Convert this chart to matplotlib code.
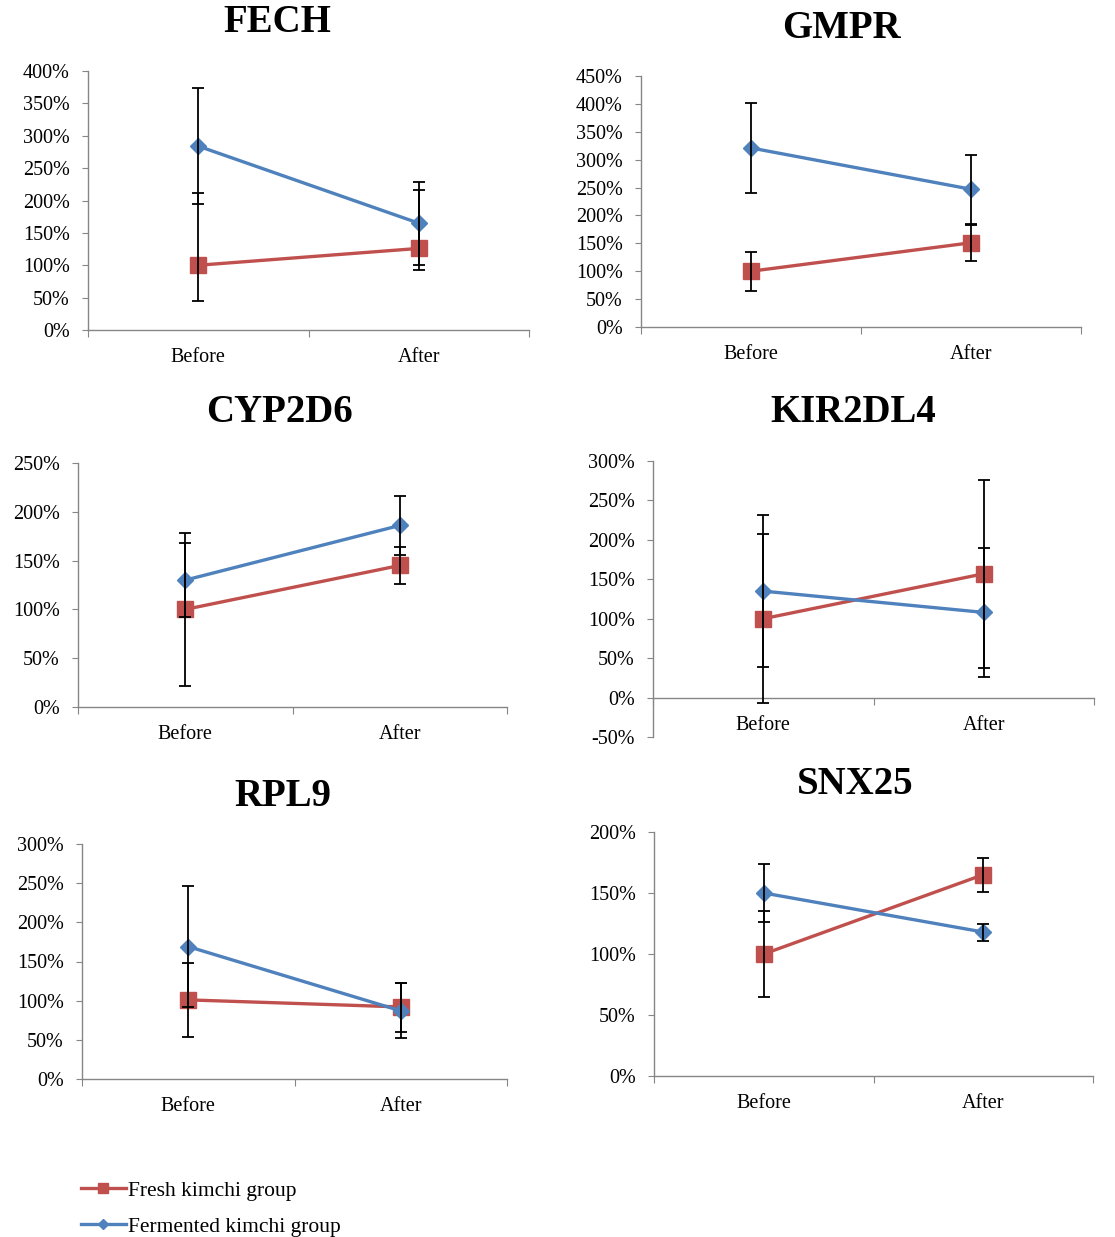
import matplotlib
matplotlib.use('Agg')
import matplotlib.pyplot as plt
import numpy as np

plt.rcParams['font.family'] = ['Liberation Serif', 'DejaVu Serif']

genes = ['FECH', 'GMPR', 'CYP2D6', 'KIR2DL4', 'RPL9', 'SNX25']
timepoints = ['Before', 'After']

# relative expression (%), before / after
fresh_mean = [[100, 126], [100, 151], [100, 145], [100, 157], [101, 92], [100, 165]]
fresh_err_lo = [[55, 34], [35, 32], [78, 19], [107, 119], [47, 32], [35, 14]]
fresh_err_hi = [[112, 90], [35, 32], [78, 19], [107, 119], [47, 30], [35, 14]]

ferm_mean = [[284, 165], [321, 247], [130, 186], [135, 108], [169, 87], [150, 118]]
ferm_err_lo = [[89, 65], [80, 62], [38, 30], [96, 82], [77, 35], [24, 7]]
ferm_err_hi = [[90, 63], [80, 62], [38, 30], [96, 82], [77, 35], [24, 7]]

y_ranges = [(0, 400), (0, 450), (0, 250), (-50, 300), (0, 300), (0, 200)]

W, H = 1115, 1237
# plot boxes in pixels: left, top, right, bottom
boxes = [(88, 71, 529, 330), (641, 76, 1081, 327),
         (78, 463, 507, 707), (653, 461, 1094, 737),
         (82, 844, 507, 1079), (654, 832, 1093, 1076)]
title_pos = [(277, 22), (841, 28), (280, 413), (853, 413), (283, 797), (855, 785)]

RED = '#C0504D'
BLUE = '#4F81BD'
GREY = '#868686'

fig = plt.figure(figsize=(W / 100, H / 100), dpi=100)
fig.patch.set_facecolor('white')

x = np.arange(len(timepoints))
handles = []
for i, gene in enumerate(genes):
    l, t, r, b = boxes[i]
    ax = fig.add_axes([l / W, 1 - b / H, (r - l) / W, (b - t) / H])
    lo, hi = y_ranges[i]

    for s in ['top', 'right']:
        ax.spines[s].set_visible(False)
    for s in ['left', 'bottom']:
        ax.spines[s].set_color(GREY)
        ax.spines[s].set_linewidth(1.0)
    if lo < 0:
        ax.spines['bottom'].set_position(('data', 0))

    h1, = ax.plot(x, fresh_mean[i], color=RED, lw=2.4, marker='s', ms=11,
                  mfc=RED, mec=RED, zorder=3, label='Fresh kimchi group')
    h2, = ax.plot(x, ferm_mean[i], color=BLUE, lw=2.4, marker='D', ms=8,
                  mfc=BLUE, mec=BLUE, zorder=4, label='Fermented kimchi group')
    ax.errorbar(x, fresh_mean[i], yerr=[fresh_err_lo[i], fresh_err_hi[i]], fmt='none',
                ecolor='black', elinewidth=1.3, capsize=4.5, capthick=1.3, zorder=5)
    ax.errorbar(x, ferm_mean[i], yerr=[ferm_err_lo[i], ferm_err_hi[i]], fmt='none',
                ecolor='black', elinewidth=1.3, capsize=4.5, capthick=1.3, zorder=5)
    if i == 0:
        handles = [h1, h2]

    ax.set_ylim(lo, hi)
    ax.set_xlim(-0.5, 1.5)
    yt = np.arange(lo, hi + 1, 50)
    ax.set_yticks(yt)
    ax.set_yticklabels([f'{v}%' for v in yt], fontsize=14.5)

    # category boundaries carry the tick marks, labels sit at the centres
    ax.set_xticks([-0.5, 0.5, 1.5])
    ax.set_xticklabels([])
    ax.set_xticks(x, minor=True)
    ax.set_xticklabels(timepoints, minor=True, fontsize=14.5)
    ax.tick_params(axis='x', which='minor', length=0, pad=13)
    ax.tick_params(axis='x', which='major', length=5, color=GREY, direction='out')
    ax.tick_params(axis='y', length=4, color=GREY, direction='out', pad=9)

    tx, ty = title_pos[i]
    fig.text(tx / W, 1 - ty / H, gene, ha='center', va='center',
             fontsize=28, fontweight='bold')

fig.legend(handles=handles, loc='upper left', bbox_to_anchor=(72 / W, 1 - 1172 / H),
           frameon=False, fontsize=15.5, handlelength=2.1, handletextpad=0.1,
           markerscale=0.7, labelspacing=0.75, borderaxespad=0)

fig.savefig('out.png', dpi=100, facecolor='white')
